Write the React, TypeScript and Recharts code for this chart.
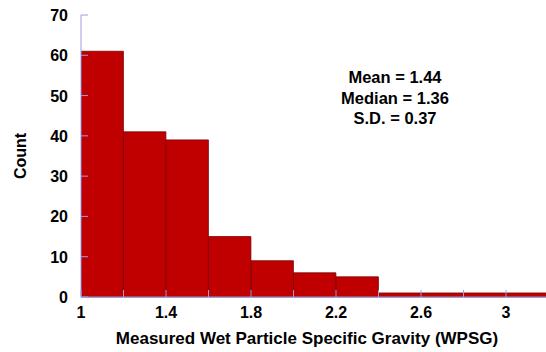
import { BarChart, Bar, XAxis, YAxis } from 'recharts';

const binStarts = [1.0, 1.2, 1.4, 1.6, 1.8, 2.0, 2.2, 2.4, 2.6, 2.8, 3.0];
const counts = [61, 41, 39, 15, 9, 6, 5, 1, 1, 1, 1];
const xTicks = [1, 1.2, 1.4, 1.6, 1.8, 2, 2.2, 2.4, 2.6, 2.8, 3];
const xLabelTicks = [1, 1.4, 1.8, 2.2, 2.6, 3];
const yTicks = [0, 10, 20, 30, 40, 50, 60, 70];
const stats = ['Mean = 1.44', 'Median = 1.36', 'S.D. = 0.37'];

const data = binStarts.map((s, i) => ({
  x: s + 0.1,
  count: counts[i],
}));

const frame = '#9c9ce8';
const font = '"Liberation Sans", Arial, sans-serif';

const BottomTick = (props: any) => {
  const { x, y, payload } = props;
  const showLabel = xLabelTicks.includes(payload.value);
  return (
    <g>
      <line x1={x} x2={x} y1={y} y2={y - 7} stroke={frame} />
      {showLabel && (
        <text x={x} y={y + 21} textAnchor="middle" fontFamily={font} fontWeight="bold" fontSize={16} fill="#000">
          {payload.value}
        </text>
      )}
    </g>
  );
};

const TopTick = (props: any) => {
  const { x, y } = props;
  return <line x1={x} x2={x} y1={y} y2={y + 7} stroke={frame} />;
};

const LeftTick = (props: any) => {
  const { x, y, payload } = props;
  return (
    <g>
      <line x1={x} x2={x + 7} y1={y} y2={y} stroke={frame} />
      <text x={x - 13} y={y + 6} textAnchor="end" fontFamily={font} fontWeight="bold" fontSize={16} fill="#000">
        {payload.value}
      </text>
    </g>
  );
};

const RightTick = (props: any) => {
  const { x, y } = props;
  return <line x1={x} x2={x - 7} y1={y} y2={y} stroke={frame} />;
};

export default function App() {
  return (
    <div style={{ position: 'absolute', left: 0, top: 0, width: 546, height: 352, overflow: 'hidden', background: '#fff' }}>
      <BarChart
        width={560}
        height={352}
        data={data}
        barCategoryGap={0}
        barGap={0}
        margin={{ top: 15, right: 11.5, bottom: 0, left: 0 }}
      >
        <XAxis
          xAxisId="num"
          type="number"
          dataKey="x"
          domain={[1, 3.2]}
          allowDataOverflow
          ticks={xTicks}
          interval={0}
          height={55}
          tickSize={0}
          tickMargin={0}
          tickLine={false}
          axisLine={{ stroke: frame }}
          tick={<BottomTick />}
          label={{
            content: (p: any) => (
              <text x={307} y={p.viewBox.y + 47} textAnchor="middle" fontFamily={font} fontWeight="bold" fontSize={17} fill="#000">
                Measured Wet Particle Specific Gravity (WPSG)
              </text>
            ),
          }}
        />
        <XAxis
          xAxisId="top"
          orientation="top"
          type="number"
          dataKey="x"
          domain={[1, 3.2]}
          allowDataOverflow
          ticks={xTicks}
          interval={0}
          height={0}
          tickSize={0}
          tickMargin={0}
          tickLine={false}
          axisLine={{ stroke: frame }}
          tick={<TopTick />}
        />
        <YAxis
          yAxisId="left"
          domain={[0, 70]}
          ticks={yTicks}
          interval={0}
          width={81}
          tickSize={0}
          tickMargin={0}
          tickLine={false}
          axisLine={{ stroke: frame }}
          tick={<LeftTick />}
          label={{
            content: (p: any) => {
              const cx = 20;
              const cy = p.viewBox.y + p.viewBox.height / 2;
              return (
                <text x={cx} y={cy} transform={`rotate(-90, ${cx}, ${cy})`} textAnchor="middle" dominantBaseline="central" fontFamily={font} fontWeight="bold" fontSize={16} fill="#000">
                  Count
                </text>
              );
            },
          }}
        />
        <YAxis
          yAxisId="right"
          orientation="right"
          domain={[0, 70]}
          ticks={yTicks}
          interval={0}
          width={0}
          tickSize={0}
          tickMargin={0}
          tickLine={false}
          axisLine={{ stroke: frame }}
          tick={<RightTick />}
        />
        <Bar
          xAxisId="num"
          yAxisId="left"
          dataKey="count"
          barSize={42.4}
          fill="#c00000"
          stroke="#7a0000"
          strokeWidth={0.8}
          isAnimationActive={false}
        />
      </BarChart>
      <div
        style={{
          position: 'absolute',
          left: 315,
          top: 67,
          width: 160,
          textAlign: 'center',
          fontFamily: font,
          fontWeight: 'bold',
          fontSize: 16.5,
          lineHeight: '20.5px',
          color: '#000',
        }}
      >
        {stats.map((s) => (
          <div key={s}>{s}</div>
        ))}
      </div>
    </div>
  );
}
